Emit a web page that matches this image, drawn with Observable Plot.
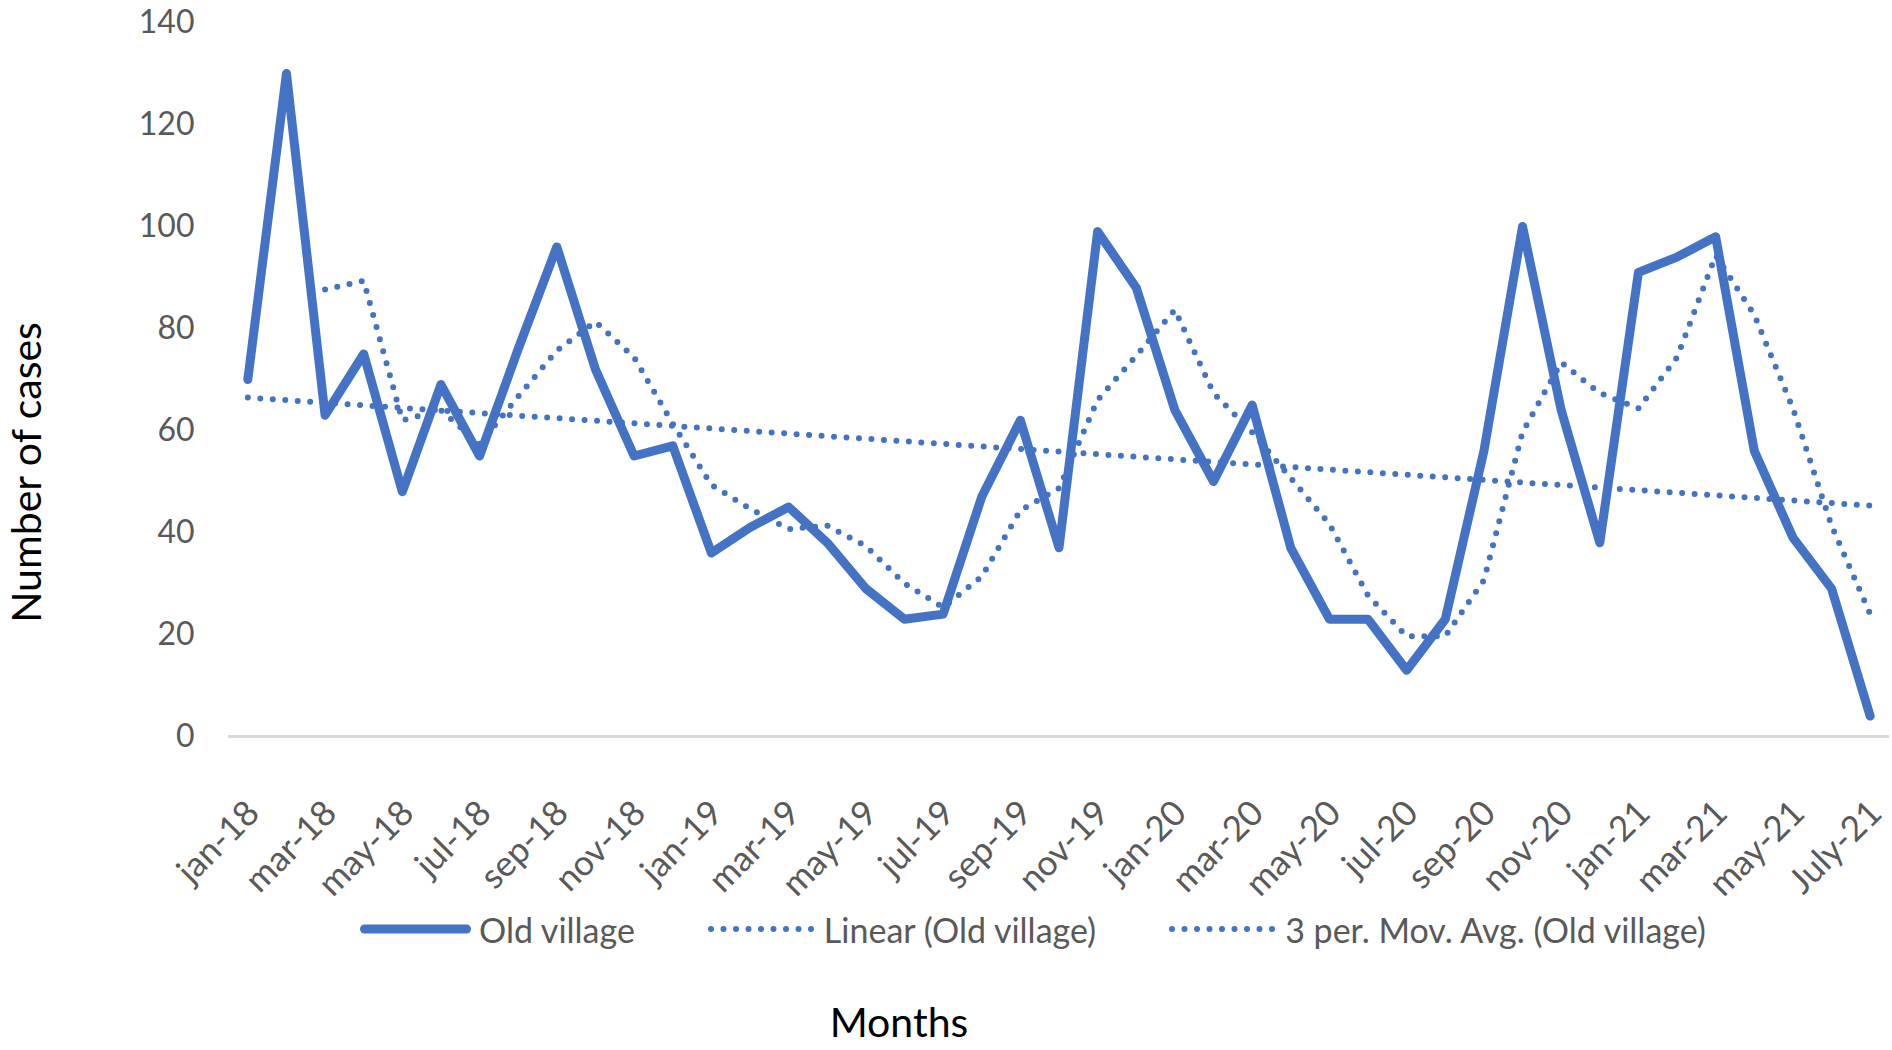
<!DOCTYPE html>
<html><head><meta charset="utf-8">
<script src="https://cdn.jsdelivr.net/npm/d3@7"></script>
<script src="https://cdn.jsdelivr.net/npm/@observablehq/plot@0.6"></script>
<style>
  html,body{margin:0;padding:0;background:#fff;}
  #chart{width:1892px;height:1050px;position:relative;overflow:hidden;font-family:Lato,"Open Sans",sans-serif;}
  .legend{height:78px;display:flex;align-items:center;padding-left:360px;color:#595959;font-size:34px;}
  .item{display:flex;align-items:center;margin-right:73px;white-space:nowrap;}
  .item svg{margin-right:8px;display:block;}
  .xtitle{width:1798px;height:82px;box-sizing:border-box;padding-top:29px;line-height:50px;text-align:center;font-size:41px;color:#000;}
</style>
</head>
<body>
<div id="chart"></div>
<script>
const months = [
  "jan-18","feb-18","mar-18","apr-18","may-18","jun-18","jul-18","aug-18","sep-18","oct-18","nov-18","dec-18",
  "jan-19","feb-19","mar-19","apr-19","may-19","jun-19","jul-19","aug-19","sep-19","oct-19","nov-19","dec-19",
  "jan-20","feb-20","mar-20","apr-20","may-20","jun-20","jul-20","aug-20","sep-20","oct-20","nov-20","dec-20",
  "jan-21","feb-21","mar-21","apr-21","may-21","jun-21","July-21"
];
const oldVillage = [
  70,130,63,75,48,69,55,76,96,72,55,57,
  36,41,45,38,29,23,24,47,62,37,99,88,
  64,50,65,37,23,23,13,23,56,100,64,38,
  91,94,98,56,39,29,4
];
const yTicks = [0,20,40,60,80,100,120,140];
const seriesNames = ["Old village","Linear (Old village)","3 per. Mov. Avg. (Old village)"];
const yTitle = "Number of cases";
const xTitle = "Months";

const blue = "#4472C4";
const rows = months.map((m,i)=>({i, month:m, cases:oldVillage[i]}));

const plot = Plot.plot({
  width:1892, height:890,
  marginLeft:228, marginRight:3, marginTop:22, marginBottom:154,
  style:{fontFamily:"Lato, 'Open Sans', sans-serif", fontSize:"32px", color:"#595959", background:"white", overflow:"visible"},
  x:{type:"linear", domain:[-0.5, months.length-0.5], axis:null},
  y:{domain:[0,140], ticks:yTicks, tickSize:0, tickPadding:34, label:null, tickFormat:d=>String(d)},
  marks:[
    Plot.ruleY([0], {stroke:"#d9d9d9", strokeWidth:3}),
    Plot.lineY(rows, {x:"i", y:"cases", stroke:blue, strokeWidth:9, strokeLinejoin:"round", strokeLinecap:"round"}),
    Plot.linearRegressionY(rows, {x:"i", y:"cases", stroke:blue, strokeWidth:6, strokeDasharray:"0 12.5", strokeLinecap:"round", ci:0}),
    Plot.lineY(rows, Plot.windowY({k:3, anchor:"end", strict:true, reduce:"mean"}, {x:"i", y:"cases", stroke:blue, strokeWidth:6, strokeDasharray:"0 12.5", strokeLinecap:"round", strokeLinejoin:"round"})),
    Plot.text(rows, {filter:d=>d.i%2===0, x:"i", text:"month", frameAnchor:"bottom", rotate:-45, textAnchor:"end", lineAnchor:"top", dx:-4, dy:61, fill:"#595959", fontSize:35}),
    Plot.text([yTitle], {frameAnchor:"left", rotate:-90, textAnchor:"middle", lineAnchor:"middle", dx:-201, dy:93, fill:"#000", fontSize:41})
  ]
});
const chart = document.getElementById("chart");
chart.appendChild(plot);

// legend
const legend = document.createElement("div");
legend.className = "legend";
seriesNames.forEach((name, k)=>{
  const item = document.createElement("div");
  item.className = "item";
  const dotted = k>0;
  const w = dotted ? 108 : 111;
  const sw = dotted
    ? `<svg width="${w}" height="20"><line x1="3" y1="10" x2="${w-3}" y2="10" stroke="${blue}" stroke-width="6" stroke-dasharray="0 12.5" stroke-linecap="round"/></svg>`
    : `<svg width="${w}" height="20"><line x1="4.5" y1="10" x2="${w-4.5}" y2="10" stroke="${blue}" stroke-width="9" stroke-linecap="round"/></svg>`;
  item.innerHTML = sw + `<span>${name}</span>`;
  legend.appendChild(item);
});
chart.appendChild(legend);

const xt = document.createElement("div");
xt.className = "xtitle";
xt.textContent = xTitle;
chart.appendChild(xt);
</script>
</body></html>
